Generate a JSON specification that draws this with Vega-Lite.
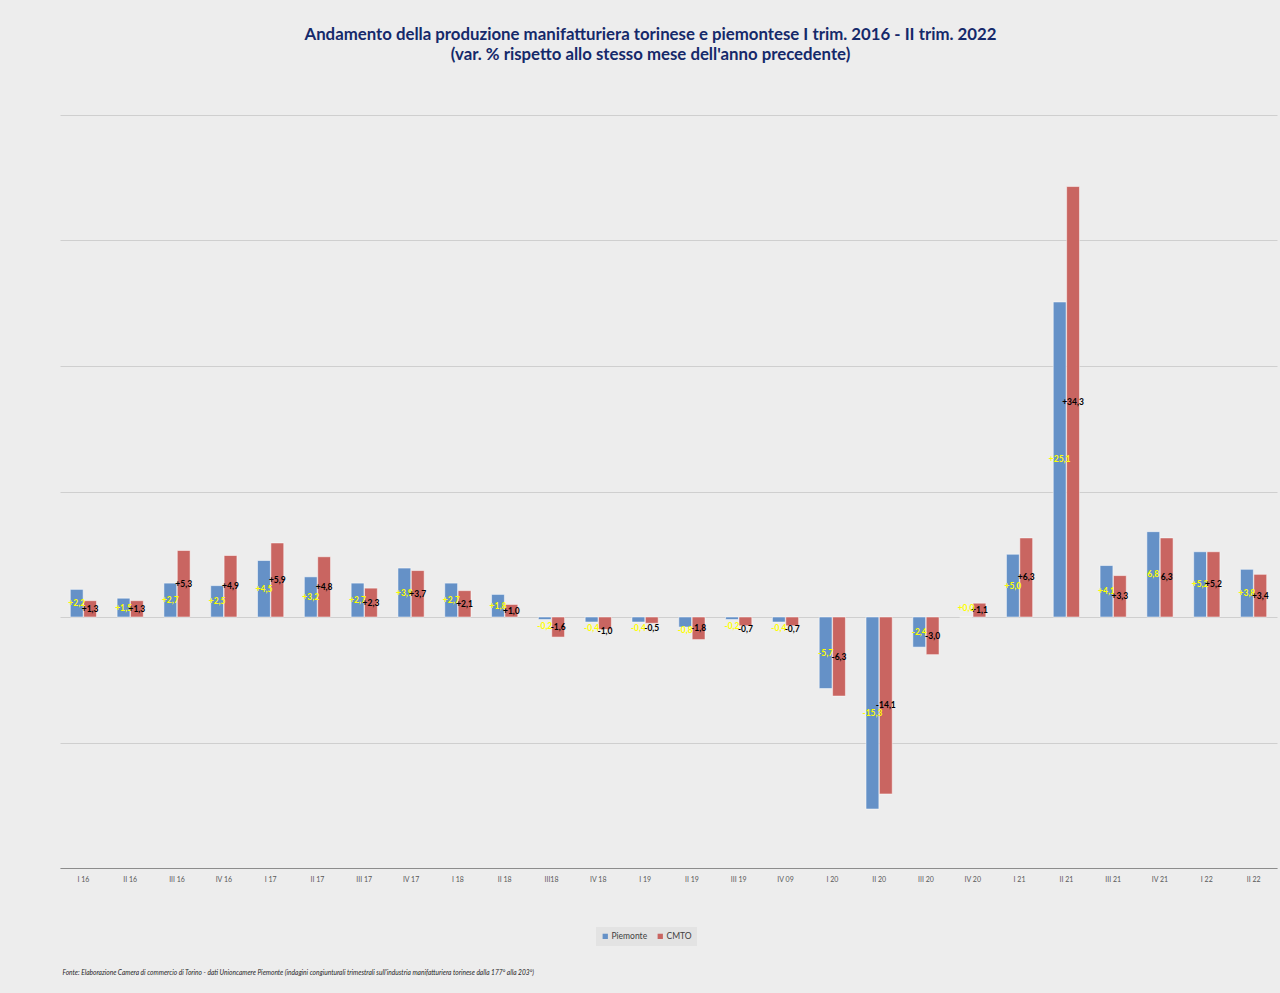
{
  "$schema": "https://vega.github.io/schema/vega-lite/v6.json",
  "width": 1217,
  "height": 753,
  "autosize": {"type": "none"},
  "padding": {"left": 60, "top": 115, "right": 3, "bottom": 125},
  "background": "#EDEDED",
  "config": {"view": {"stroke": null}, "font": "Lato"},
  "title": {
    "text": "Andamento della produzione manifatturiera torinese e piemontese  I trim. 2016 - II trim. 2022",
    "subtitle": "(var. % rispetto allo stesso mese dell'anno precedente)",
    "fontSize": 16.8,
    "subtitleFontSize": 16.8,
    "fontWeight": "bold",
    "subtitleFontWeight": "bold",
    "color": "#15296A",
    "subtitleColor": "#15296A",
    "font": "Lato",
    "subtitleFont": "Lato",
    "anchor": "middle",
    "frame": "group",
    "offset": 51,
    "dx": -18,
    "subtitlePadding": 3
  },
  "data": {
    "values": [
      {"q": "I 16", "s": "Piemonte", "v": 2.2, "lab": "+2,2"},
      {"q": "I 16", "s": "CMTO", "v": 1.3, "lab": "+1,3"},
      {"q": "II 16", "s": "Piemonte", "v": 1.5, "lab": "+1,5"},
      {"q": "II 16", "s": "CMTO", "v": 1.3, "lab": "+1,3"},
      {"q": "III 16", "s": "Piemonte", "v": 2.7, "lab": "+2,7"},
      {"q": "III 16", "s": "CMTO", "v": 5.3, "lab": "+5,3"},
      {"q": "IV 16", "s": "Piemonte", "v": 2.5, "lab": "+2,5"},
      {"q": "IV 16", "s": "CMTO", "v": 4.9, "lab": "+4,9"},
      {"q": "I 17", "s": "Piemonte", "v": 4.5, "lab": "+4,5"},
      {"q": "I 17", "s": "CMTO", "v": 5.9, "lab": "+5,9"},
      {"q": "II 17", "s": "Piemonte", "v": 3.2, "lab": "+3,2"},
      {"q": "II 17", "s": "CMTO", "v": 4.8, "lab": "+4,8"},
      {"q": "III 17", "s": "Piemonte", "v": 2.7, "lab": "+2,7"},
      {"q": "III 17", "s": "CMTO", "v": 2.3, "lab": "+2,3"},
      {"q": "IV 17", "s": "Piemonte", "v": 3.9, "lab": "+3,9"},
      {"q": "IV 17", "s": "CMTO", "v": 3.7, "lab": "+3,7"},
      {"q": "I 18", "s": "Piemonte", "v": 2.7, "lab": "+2,7"},
      {"q": "I 18", "s": "CMTO", "v": 2.1, "lab": "+2,1"},
      {"q": "II 18", "s": "Piemonte", "v": 1.8, "lab": "+1,8"},
      {"q": "II 18", "s": "CMTO", "v": 1.0, "lab": "+1,0"},
      {"q": "III18", "s": "Piemonte", "v": -0.2, "lab": "-0,2"},
      {"q": "III18", "s": "CMTO", "v": -1.6, "lab": "-1,6"},
      {"q": "IV 18", "s": "Piemonte", "v": -0.4, "lab": "-0,4"},
      {"q": "IV 18", "s": "CMTO", "v": -1.0, "lab": "-1,0"},
      {"q": "I 19", "s": "Piemonte", "v": -0.4, "lab": "-0,4"},
      {"q": "I 19", "s": "CMTO", "v": -0.5, "lab": "-0,5"},
      {"q": "II 19", "s": "Piemonte", "v": -0.8, "lab": "-0,8"},
      {"q": "II 19", "s": "CMTO", "v": -1.8, "lab": "-1,8"},
      {"q": "III 19", "s": "Piemonte", "v": -0.2, "lab": "-0,2"},
      {"q": "III 19", "s": "CMTO", "v": -0.7, "lab": "-0,7"},
      {"q": "IV 09", "s": "Piemonte", "v": -0.4, "lab": "-0,4"},
      {"q": "IV 09", "s": "CMTO", "v": -0.7, "lab": "-0,7"},
      {"q": "I 20", "s": "Piemonte", "v": -5.7, "lab": "-5,7"},
      {"q": "I 20", "s": "CMTO", "v": -6.3, "lab": "-6,3"},
      {"q": "II 20", "s": "Piemonte", "v": -15.3, "lab": "-15,3"},
      {"q": "II 20", "s": "CMTO", "v": -14.1, "lab": "-14,1"},
      {"q": "III 20", "s": "Piemonte", "v": -2.4, "lab": "-2,4"},
      {"q": "III 20", "s": "CMTO", "v": -3.0, "lab": "-3,0"},
      {"q": "IV 20", "s": "Piemonte", "v": 0.0, "lab": "+0,0"},
      {"q": "IV 20", "s": "CMTO", "v": 1.1, "lab": "+1,1"},
      {"q": "I 21", "s": "Piemonte", "v": 5.0, "lab": "+5,0"},
      {"q": "I 21", "s": "CMTO", "v": 6.3, "lab": "+6,3"},
      {"q": "II 21", "s": "Piemonte", "v": 25.1, "lab": "+25,1"},
      {"q": "II 21", "s": "CMTO", "v": 34.3, "lab": "+34,3"},
      {"q": "III 21", "s": "Piemonte", "v": 4.1, "lab": "+4,1"},
      {"q": "III 21", "s": "CMTO", "v": 3.3, "lab": "+3,3"},
      {"q": "IV 21", "s": "Piemonte", "v": 6.8, "lab": "6,8"},
      {"q": "IV 21", "s": "CMTO", "v": 6.3, "lab": "6,3"},
      {"q": "I 22", "s": "Piemonte", "v": 5.2, "lab": "+5,2"},
      {"q": "I 22", "s": "CMTO", "v": 5.2, "lab": "+5,2"},
      {"q": "II 22", "s": "Piemonte", "v": 3.8, "lab": "+3,8"},
      {"q": "II 22", "s": "CMTO", "v": 3.4, "lab": "+3,4"}
    ]
  },
  "encoding": {
    "x": {
      "field": "q",
      "type": "nominal",
      "sort": null,
      "scale": {"paddingInner": 0.44, "paddingOuter": 0.22},
      "axis": {
        "labelAngle": 0,
        "labelFontSize": 7,
        "labelColor": "#595959",
        "labelFont": "Lato",
        "labelPadding": 7,
        "ticks": false,
        "domainColor": "#8C8C8C",
        "domainWidth": 1,
        "title": "Fonte: Elaborazione Camera di commercio di Torino - dati Unioncamere Piemonte (indagini congiunturali trimestrali  sull'industria manifatturiera torinese dalla 177° alla 203°)",
        "titleFontSize": 6.6,
        "titleFontStyle": "italic",
        "titleFontWeight": "normal",
        "titleColor": "#262626",
        "titleFont": "Lato",
        "titleAnchor": "start",
        "titleAlign": "left",
        "titleBaseline": "middle",
        "titleX": 2,
        "titleY": 104
      }
    },
    "xOffset": {
      "field": "s",
      "type": "nominal",
      "scale": {"domain": ["Piemonte", "CMTO"], "paddingInner": 0.04}
    }
  },
  "layer": [
    {
      "mark": {"type": "bar", "stroke": "#FFFFFF", "strokeOpacity": 0.5, "strokeWidth": 1},
      "encoding": {
        "y": {
          "field": "v",
          "type": "quantitative",
          "scale": {"domain": [-20, 40], "nice": false},
          "axis": {
            "title": null,
            "labels": false,
            "ticks": false,
            "domain": false,
            "grid": true,
            "values": [-20, -10, 0, 10, 20, 30, 40],
            "gridColor": "#CFCFCF",
            "gridWidth": 1
          }
        },
        "color": {
          "field": "s",
          "type": "nominal",
          "scale": {"domain": ["Piemonte", "CMTO"], "range": ["#6591C7", "#C96561"]},
          "legend": {
            "orient": "none",
            "legendX": 536,
            "legendY": 812,
            "direction": "horizontal",
            "title": null,
            "symbolType": "square",
            "symbolSize": 28,
            "symbolStrokeWidth": 0,
            "labelFontSize": 8.5,
            "labelFont": "Lato",
            "labelColor": "#404040",
            "labelOffset": 2,
            "columnPadding": 8,
            "fillColor": "#E3E3E3",
            "padding": 5
          }
        }
      }
    },
    {
      "mark": {"type": "rule", "color": "#6F6F6F", "strokeWidth": 1.5},
      "encoding": {
        "y": {"datum": 0, "type": "quantitative", "scale": {"domain": [-20, 40], "nice": false}, "axis": null}
      }
    },
    {
      "transform": [{"filter": "datum.v <= -1.5 || datum.v > 0"}],
      "mark": {"type": "text", "fontSize": 8.5, "fontWeight": "bold", "font": "Lato", "align": "center", "baseline": "middle"},
      "encoding": {
        "y": {"field": "v", "type": "quantitative", "scale": {"domain": [-40, 80], "nice": false}, "axis": null},
        "text": {"field": "lab"},
        "color": {
          "field": "s",
          "type": "nominal",
          "scale": {"domain": ["Piemonte", "CMTO"], "range": ["#FFFF00", "#000000"]},
          "legend": null
        }
      }
    },
    {
      "transform": [{"filter": "datum.v > -1.5 && datum.v < 0"}],
      "mark": {"type": "text", "fontSize": 8.5, "fontWeight": "bold", "font": "Lato", "align": "center", "baseline": "middle", "dy": 8},
      "encoding": {
        "y": {"field": "v", "type": "quantitative", "scale": {"domain": [-40, 80], "nice": false}, "axis": null},
        "text": {"field": "lab"},
        "color": {
          "field": "s",
          "type": "nominal",
          "scale": {"domain": ["Piemonte", "CMTO"], "range": ["#FFFF00", "#000000"]},
          "legend": null
        }
      }
    },
    {
      "transform": [{"filter": "datum.v == 0"}],
      "mark": {"type": "text", "fontSize": 8.5, "fontWeight": "bold", "font": "Lato", "align": "center", "baseline": "middle", "dy": -9},
      "encoding": {
        "y": {"field": "v", "type": "quantitative", "scale": {"domain": [-40, 80], "nice": false}, "axis": null},
        "text": {"field": "lab"},
        "color": {
          "field": "s",
          "type": "nominal",
          "scale": {"domain": ["Piemonte", "CMTO"], "range": ["#FFFF00", "#000000"]},
          "legend": null
        }
      }
    }
  ],
  "resolve": {"scale": {"y": "independent", "color": "independent"}}
}
